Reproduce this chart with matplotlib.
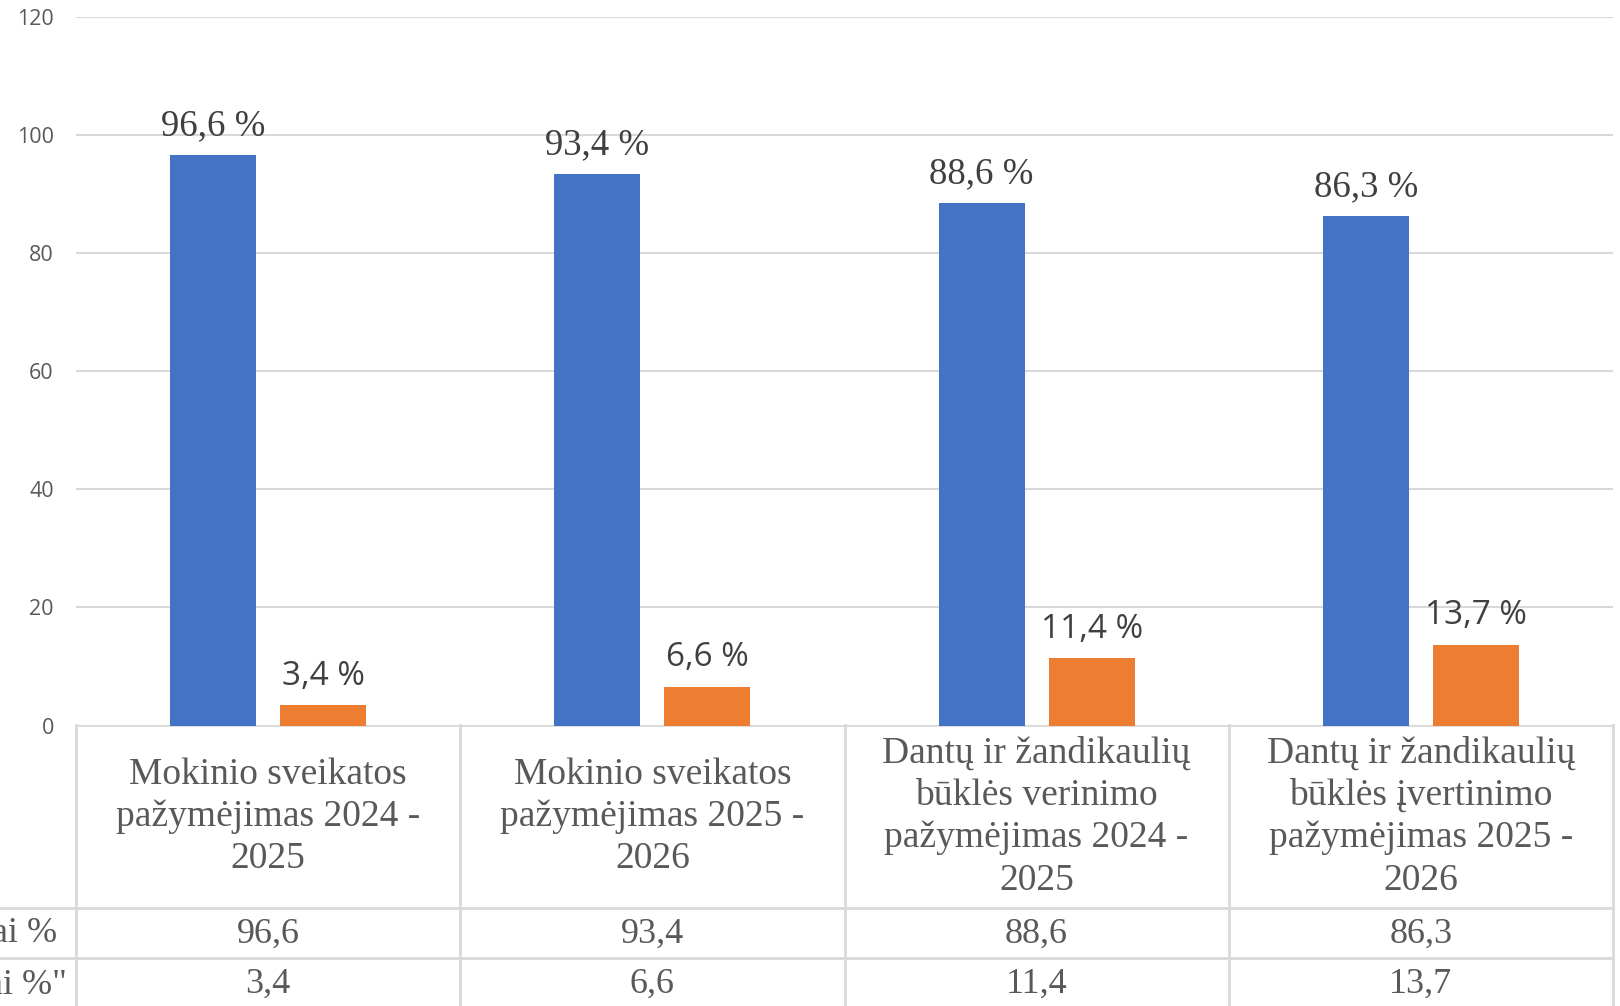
import matplotlib.pyplot as plt
import numpy as np

# data
categories = [
    "Mokinio sveikatos\npažymėjimas 2024 -\n2025",
    "Mokinio sveikatos\npažymėjimas 2025 -\n2026",
    "Dantų ir žandikaulių\nbūklės verinimo\npažymėjimas 2024 -\n2025",
    "Dantų ir žandikaulių\nbūklės įvertinimo\npažymėjimas 2025 -\n2026",
]
pateikta = [96.6, 93.4, 88.6, 86.3]
nepateikta = [3.4, 6.6, 11.4, 13.7]
row_labels = ["ai %", 'ai %"']
y_ticks = [0, 20, 40, 60, 80, 100, 120]

BLUE = "#4472C4"
ORANGE = "#ED7D31"
GRID = "#D9D9D9"
TXT = "#595959"
SERIF = ["Liberation Serif", "DejaVu Serif"]
SANS = ["Open Sans", "DejaVu Sans"]

W, H = 1620, 1006
fig = plt.figure(figsize=(W / 100, H / 100), dpi=100)

# pixel layout
left, right = 76, 1613
top, zero = 17.3, 725.5
ax = fig.add_axes([left / W, 1 - zero / H, (right - left) / W, (zero - top) / H])

x = np.arange(len(categories))
bw = 0.224
off = 0.143
b1 = ax.bar(x - off, pateikta, bw, color=BLUE, zorder=3)
b2 = ax.bar(x + off, nepateikta, bw, color=ORANGE, zorder=3)

fmt = lambda v: f"{v:.1f}".replace(".", ",") + " %"
for bar, v in zip(b1, pateikta):
    ax.annotate(fmt(v), (bar.get_x() + bar.get_width() / 2, v),
                xytext=(0, 21), textcoords="offset points", ha="center", va="center",
                fontsize=26.5, family=SERIF, color="#404040")
for bar, v in zip(b2, nepateikta):
    ax.annotate(fmt(v), (bar.get_x() + bar.get_width() / 2, v),
                xytext=(0, 21), textcoords="offset points", ha="center", va="center",
                fontsize=24, family=SANS, color="#404040")

ax.set_xlim(-0.5, len(categories) - 0.5)
ax.set_ylim(0, 120)
ax.set_yticks(y_ticks)
ax.set_yticklabels([str(t) for t in y_ticks], fontsize=15.5, family=SANS, color=TXT)
ax.tick_params(axis="y", length=0, pad=16)
ax.set_xticks([])
ax.grid(axis="y", color=GRID, linewidth=1.5, zorder=0)
for s in ax.spines.values():
    s.set_visible(False)

# data table under the chart
tab = fig.add_axes([left / W, 0, (right - left) / W, (H - zero) / H])
tab.set_xlim(-0.5, len(categories) - 0.5)
tab.set_ylim(H, zero)
tab.axis("off")

hdr_bot, row1_bot, row2_bot = 908, 958, 1010
lw = 2
tab.axhline(zero, color=GRID, lw=lw)
for yy in (hdr_bot, row1_bot):
    tab.plot([-0.5 - left / 384.25, len(categories) - 0.5], [yy, yy], color=GRID, lw=lw, clip_on=False)
for xx in np.arange(len(categories) + 1) - 0.5:
    tab.plot([xx, xx], [zero, row2_bot], color=GRID, lw=lw, clip_on=False)

for i, cat in enumerate(categories):
    tab.text(i, (zero + hdr_bot) / 2, cat, ha="center", va="center", fontsize=27,
             family=SERIF, color=TXT, linespacing=1.3)
    tab.text(i, (hdr_bot + row1_bot) / 2 + 1, f"{pateikta[i]:.1f}".replace(".", ","),
             ha="center", va="center", fontsize=26, family=SERIF, color=TXT)
    tab.text(i, (row1_bot + row2_bot) / 2, f"{nepateikta[i]:.1f}".replace(".", ","),
             ha="center", va="center", fontsize=26, family=SERIF, color=TXT)

fig.text(57 / W, 1 - 934 / H, row_labels[0], ha="right", va="center",
         fontsize=26, family=SERIF, color=TXT)
fig.text(67 / W, 1 - 985 / H, row_labels[1], ha="right", va="center",
         fontsize=26, family=SERIF, color=TXT)

fig.savefig("out.png", dpi=100)
